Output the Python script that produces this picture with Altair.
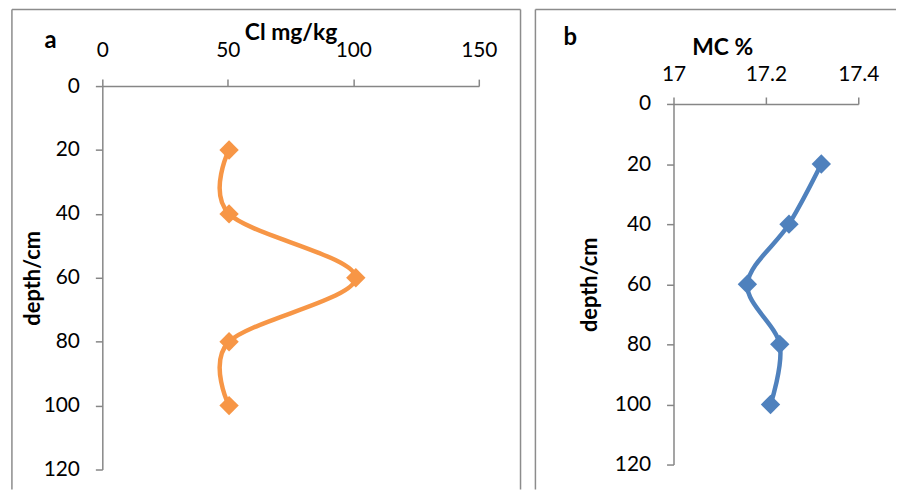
import altair as alt
import pandas as pd

# Soil profile measurements
depth = [20, 40, 60, 80, 100]
chloride = [50.5, 50.5, 101, 50.5, 50.5]          # Cl mg/kg
moisture = [17.32, 17.25, 17.16, 17.23, 17.21]    # MC %

depth_ticks = [0, 20, 40, 60, 80, 100, 120]
cl_ticks = [0, 50, 100, 150]
mc_ticks = [17, 17.2, 17.4]

ORANGE = "#F79646"
BLUE = "#4F81BD"
FRAME = "#8C8C8C"
AXIS = "#868686"
FONT = "Lato"

# Both panels share the same group origin; panel b's depth axis starts lower,
# so its scale range is shifted down and its top axis offset to match.
A_W, A_H = 379, 386
B_W, B_H = 186, 381
B_SHIFT = 18

cl_df = pd.DataFrame({"depth": depth, "value": chloride})
mc_df = pd.DataFrame({"depth": depth, "value": moisture})
one = pd.DataFrame({"k": [0]})


def frame(left, top, right, bottom, sides):
    """Open box drawn around a panel (plot-area pixel offsets)."""
    base = alt.Chart(one).mark_rule(color=FRAME, strokeWidth=1.5)
    parts = []
    if "left" in sides:
        parts.append(base.encode(x=alt.value(left), y=alt.value(top), y2=alt.value(bottom)))
    if "top" in sides:
        parts.append(base.encode(x=alt.value(left), x2=alt.value(right), y=alt.value(top)))
    if "right" in sides:
        parts.append(base.encode(x=alt.value(right), y=alt.value(top), y2=alt.value(bottom)))
    return parts


def panel_letter(letter, x, y):
    return alt.Chart(one).mark_text(
        text=letter, font=FONT, fontSize=24, fontWeight="bold",
        align="center", baseline="alphabetic", color="black",
    ).encode(x=alt.value(x), y=alt.value(y))


def profile(df, color, x_domain, x_ticks, x_fmt, x_title, title_x, title_y,
            label_pad, y_range, ytitle_x, shift):
    x_enc = alt.X(
        "value:Q",
        scale=alt.Scale(domain=x_domain, nice=False, zero=False),
        axis=alt.Axis(
            orient="top", values=x_ticks, format=x_fmt, title=x_title,
            titleX=title_x, titleY=title_y, titleAlign="center",
            titleBaseline="alphabetic", titleAngle=0, titleFontSize=23,
            tickSize=7, labelPadding=label_pad, labelFlush=False, grid=False,
            offset=-shift,
        ),
    )
    y_enc = alt.Y(
        "depth:Q",
        scale=alt.Scale(domain=[0, 120], range=y_range, nice=False),
        axis=alt.Axis(
            values=depth_ticks, title="depth/cm",
            titleX=ytitle_x, titleY=(y_range[0] + y_range[1]) / 2, titleAngle=270,
            titleAlign="center", titleBaseline="middle",
            tickSize=7, labelPadding=16, grid=False,
        ),
    )
    base = alt.Chart(df).encode(x=x_enc, y=y_enc, order=alt.Order("depth:Q"))
    line = base.mark_line(color=color, strokeWidth=4.5, interpolate="cardinal")
    pts = base.mark_point(shape="diamond", filled=True, size=380, color=color, opacity=1)
    return line, pts


a_line, a_pts = profile(cl_df, ORANGE, [0, 150], cl_ticks, "d", "Cl mg/kg",
                        A_W / 2, -47, 19, [0, A_H], -70, 0)
b_line, b_pts = profile(mc_df, BLUE, [17, 17.4], mc_ticks, ".1~f", "MC %",
                        49, -50, 13, [B_SHIFT, B_H], -85, B_SHIFT)

panel_a = alt.layer(
    *frame(-91, -77, 421, 406, ["left", "top", "right"]),
    a_line, a_pts,
    panel_letter("a", -52, -38),
).properties(width=A_W, height=A_H)

panel_b = alt.layer(
    *frame(-139, -77, 224, 406, ["left", "top"]),
    b_line, b_pts,
    panel_letter("b", -104, -41),
).properties(width=B_W, height=B_H)

chart = alt.hconcat(panel_a, panel_b, spacing=11).properties(
    padding={"left": 10, "top": 6, "right": 0, "bottom": 0},
    background="white",
).configure_view(
    stroke="transparent"
).configure_axis(
    domainColor=AXIS, tickColor=AXIS, domainWidth=1.5, tickWidth=1.5,
    labelFont=FONT, labelFontSize=21, labelColor="black",
    titleFont=FONT, titleFontSize=22, titleFontWeight="bold", titleColor="black",
)

chart.save("out.html", embed_options={"renderer": "svg", "actions": False})
